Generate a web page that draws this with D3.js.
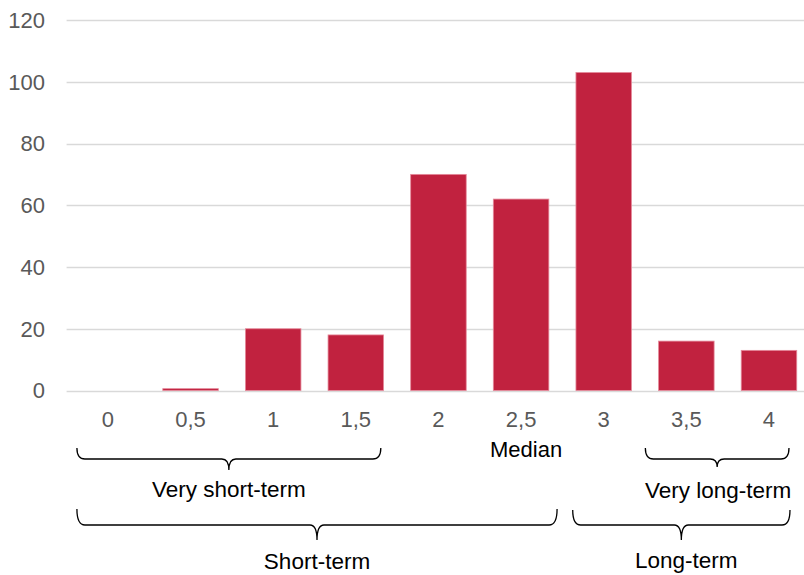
<!DOCTYPE html>
<html>
<head>
<meta charset="utf-8">
<script src="https://cdn.jsdelivr.net/npm/d3@7"></script>
<style>
  html, body { margin: 0; padding: 0; background: #fff; }
  svg { display: block; font-family: "Liberation Sans", Arial, sans-serif; }
</style>
</head>
<body>
<svg id="chart" width="804" height="575"></svg>
<script>
// ---- data ----
const categories = ["0", "0,5", "1", "1,5", "2", "2,5", "3", "3,5", "4"];
const values = [0, 0.6, 20, 18, 70, 62, 103, 16, 13];
const yTicks = [0, 20, 40, 60, 80, 100, 120];
const braceLabels = ["Very short-term", "Short-term", "Very long-term", "Long-term"];
const braceFrom = ["0", "0", "3,5", "3"];
const braceTo = ["1,5", "2,5", "4", "4"];
const medianLabel = "Median";
const medianAt = "2,5";

// ---- layout ----
const svg = d3.select("#chart");
const x = d3.scaleBand().domain(categories).range([66.6, 810.3]).paddingInner(0.328).paddingOuter(0.164);
const y = d3.scaleLinear().domain([0, 120]).range([390.5, 20]);
const cx = c => x(c) + x.bandwidth() / 2;

// gridlines
svg.append("g").selectAll("line").data(yTicks).join("line")
  .attr("x1", 66.6).attr("x2", 804)
  .attr("y1", d => Math.round(y(d)) + 0.5).attr("y2", d => Math.round(y(d)) + 0.5)
  .attr("stroke", "#d9d9d9").attr("stroke-width", 1.3);

// y tick labels
svg.append("g").selectAll("text").data(yTicks).join("text")
  .attr("x", 45).attr("y", d => y(d)).attr("dy", "0.36em")
  .attr("text-anchor", "end").attr("fill", "#595959").attr("font-size", 22)
  .text(d => d);

// bars
svg.append("g").selectAll("rect").data(categories).join("rect")
  .attr("x", d => x(d)).attr("width", x.bandwidth())
  .attr("y", (d, i) => y(values[i])).attr("height", (d, i) => y(0) - y(values[i]))
  .attr("fill", "#c1223f")
  .attr("stroke", "#e58a9b").attr("stroke-width", (d, i) => values[i] > 0 ? 0.8 : 0);

// x tick labels
svg.append("g").selectAll("text").data(categories).join("text")
  .attr("x", d => cx(d)).attr("y", 427)
  .attr("text-anchor", "middle").attr("fill", "#595959").attr("font-size", 22)
  .text(d => d);

// median label
svg.append("text")
  .attr("x", cx(medianAt) + 5).attr("y", 457)
  .attr("text-anchor", "middle").attr("fill", "#000").attr("font-size", 22)
  .text(medianLabel);

// braces
const braceGeom = [
  { l: -31, r: 25, top: 448, h: 459, tip: 470, ty: 497, tdx: 0 },
  { l: -31, r: 36, top: 509, h: 525, tip: 540, ty: 569, tdx: 0 },
  { l: -41, r: 20, top: 448, h: 459, tip: 467, ty: 498, tdx: 1 },
  { l: -31, r: 21, top: 510, h: 525, tip: 540, ty: 568, tdx: 5 }
];
function bracePath(x0, x1, top, h, tip) {
  const xm = (x0 + x1) / 2, r = 8, r2 = 7;
  return `M${x0},${top} Q${x0},${h} ${x0 + r},${h} L${xm - r2},${h} Q${xm},${h} ${xm},${tip}` +
         ` Q${xm},${h} ${xm + r2},${h} L${x1 - r},${h} Q${x1},${h} ${x1},${top}`;
}
braceLabels.forEach((lab, i) => {
  const g = braceGeom[i];
  const x0 = cx(braceFrom[i]) + g.l, x1 = cx(braceTo[i]) + g.r;
  svg.append("path").attr("d", bracePath(x0, x1, g.top, g.h, g.tip))
    .attr("fill", "none").attr("stroke", "#000").attr("stroke-width", 1.3);
  svg.append("text").attr("x", (x0 + x1) / 2 + g.tdx).attr("y", g.ty)
    .attr("text-anchor", "middle").attr("fill", "#000").attr("font-size", 22.5)
    .text(lab);
});
</script>
</body>
</html>
